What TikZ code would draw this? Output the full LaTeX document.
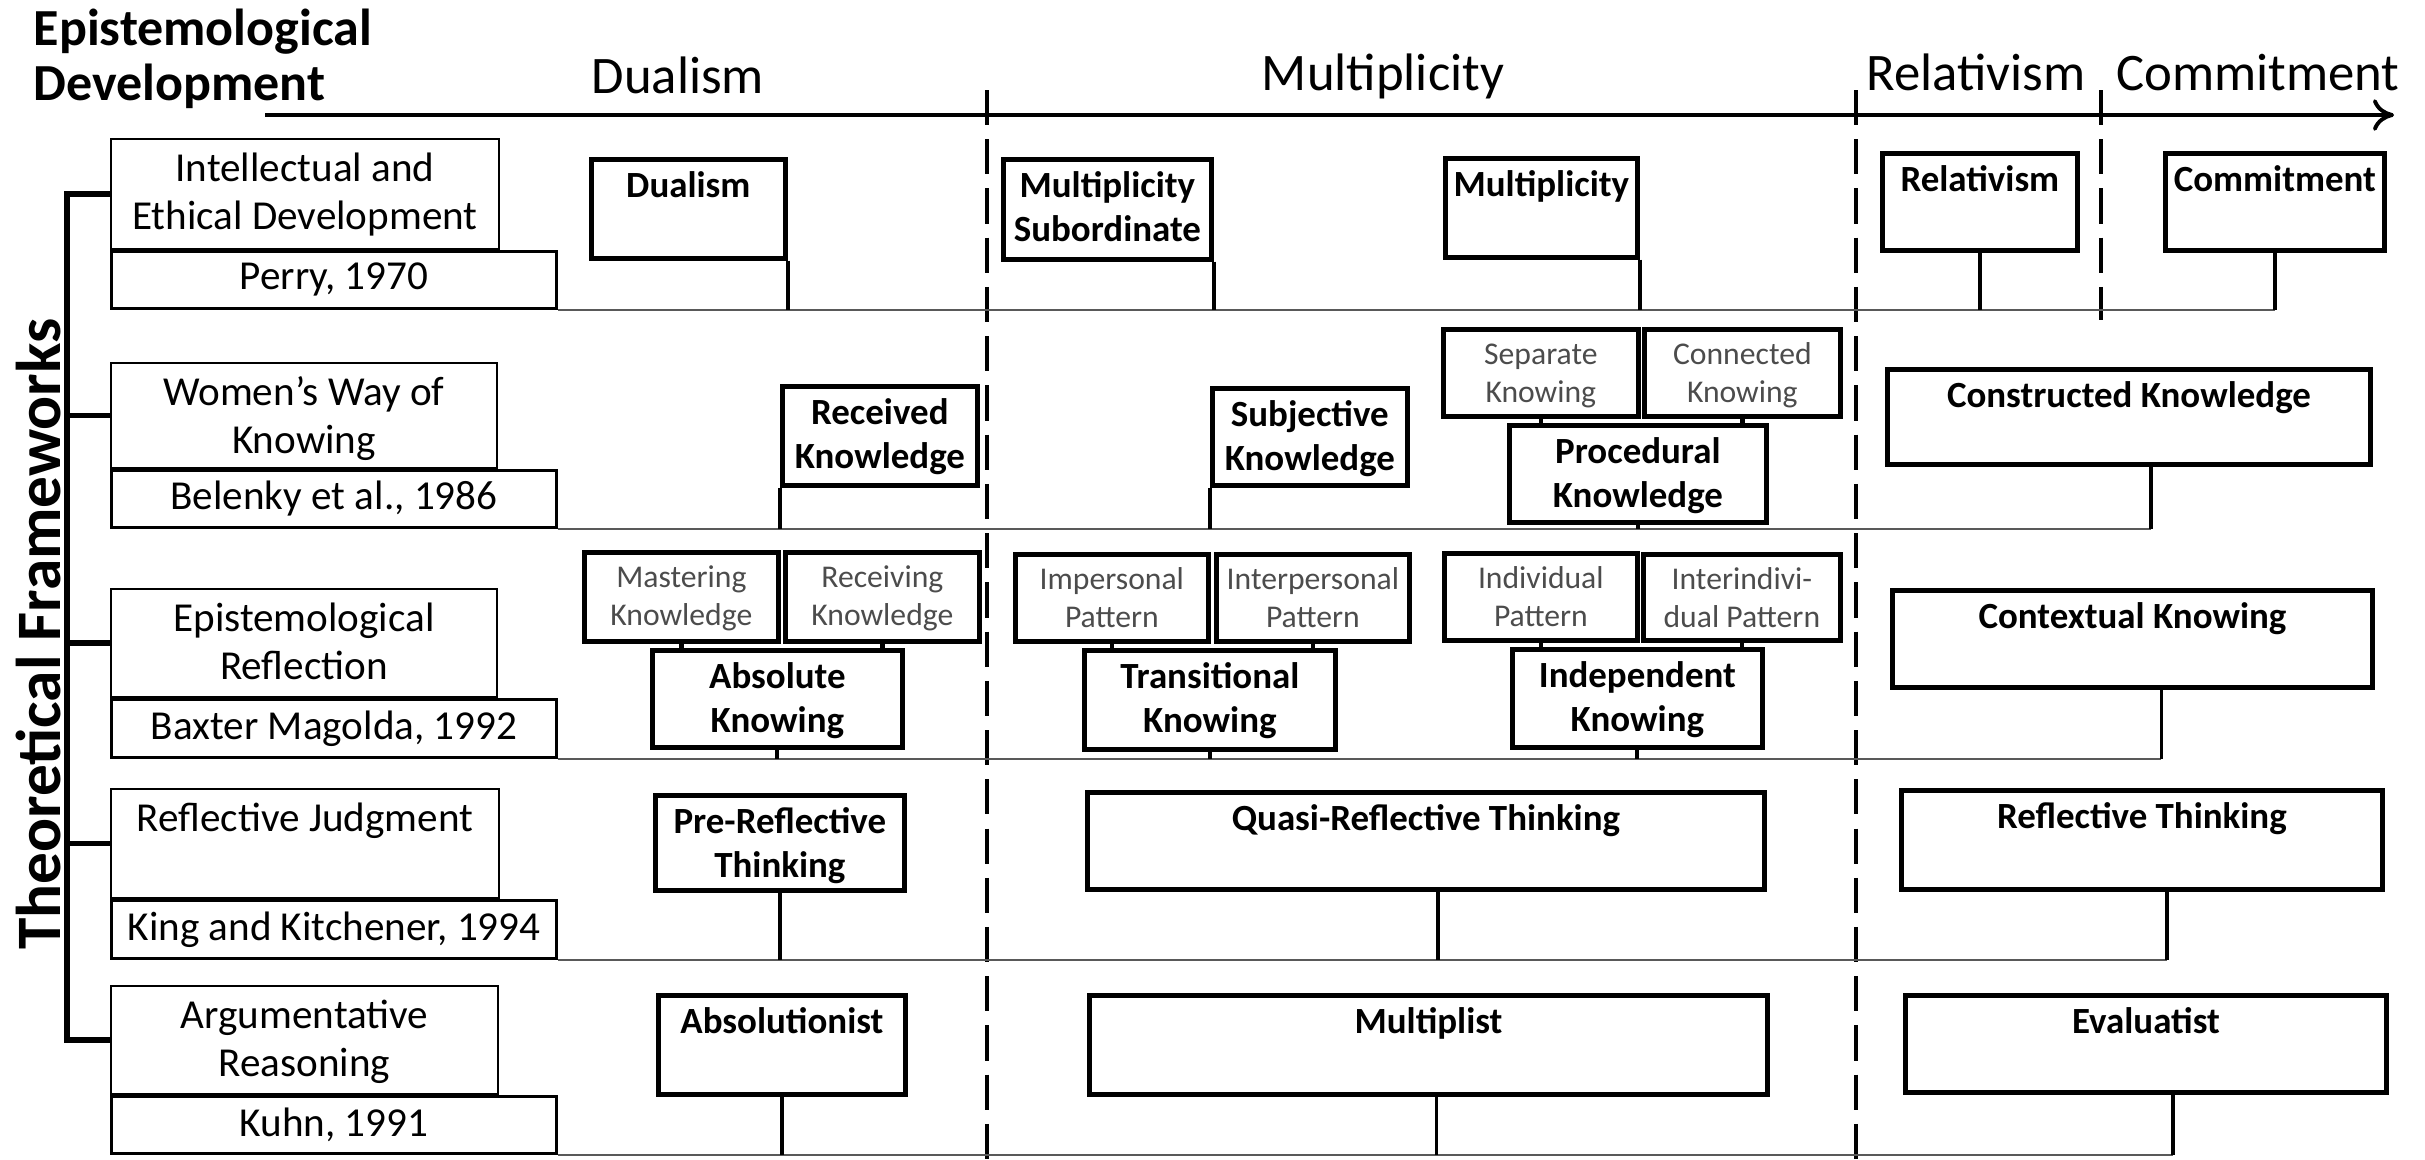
\documentclass[tikz,border=0pt]{standalone}
\usepackage{fontspec}
\setmainfont{Carlito}
\usetikzlibrary{positioning}
\usetikzlibrary{arrows.meta}
\newcommand{\toplines}[1]{\begin{tabular}[t]{@{}c@{}}#1\end{tabular}}

\begin{document}
\begin{tikzpicture}[x=0.01cm, y=-0.01cm,
    ttlbox/.style={draw, line width=0.5pt, inner sep=0pt, anchor=north west, font=\fontsize{11.7}{13.6}\selectfont, text height=0.43cm},
    citebox/.style={draw, line width=0.8pt, inner sep=0pt, anchor=north west, align=center, font=\fontsize{11.7}{13.6}\selectfont},
    stagebox/.style={draw, line width=1.3pt, inner sep=0pt, anchor=north west, font=\fontsize{10.5}{12.5}\selectfont\bfseries, text height=0.38cm},
    subbox/.style={draw, line width=1.3pt, inner sep=0pt, anchor=north west, font=\fontsize{9}{10.8}\selectfont, text=black!70, text height=0.35cm},
    eralabel/.style={anchor=base, font=\fontsize{15}{18}\selectfont},
    stemline/.style={line width=1.1pt},
    linkline/.style={line width=1.3pt},
    rowline/.style={line width=0.6pt, black!65},
    phaseline/.style={line width=1pt, dash pattern=on 10pt off 4pt}]

    \useasboundingbox (0,0) rectangle (2425,1159);

    \node[anchor=base west, align=left, inner sep=0pt, font=\fontsize{14.8}{15.6}\selectfont\bfseries] (epdev) at (33,100) {Epistemological\\Development};
    \node[rotate=90, inner sep=0pt, font=\fontsize{18}{20}\selectfont\bfseries] (thfw) at (38,634) {Theoretical Frameworks};

    \coordinate (ax0) at (265,115);
    \coordinate (ax1) at (2394,115);
    \draw[line width=1.1pt, -{To[length=6pt,width=9pt]}] (ax0) -- (ax1);

    \node[eralabel] (hdual) at (678,93) {Dualism};
    \node[eralabel] (hmult) at (1383,90) {Multiplicity};
    \node[eralabel] (hrela) at (1976,90) {Relativism};
    \node[eralabel] (hcomm) at (2258,90) {Commitment};

    \coordinate (p1) at (987,90);
    \coordinate (p2) at (1856,90);
    \coordinate (p3) at (2101,90);
    \draw[phaseline] (p1) -- ++(0,1069);
    \draw[phaseline] (p2) -- ++(0,1069);
    \draw[phaseline] (p3) -- ++(0,230);

    \node[ttlbox, minimum width=3.88cm, text depth=0.67cm] (ttl1) at (110,138) {\toplines{Intellectual and\\Ethical Development}};
    \node[citebox, minimum width=4.45cm, minimum height=0.57cm] (cite1) at (ttl1.south west) {Perry, 1970};

    \node[ttlbox, minimum width=3.86cm, text depth=0.62cm] (ttl2) at (110,362) {\toplines{Women’s Way of\\Knowing}};
    \node[citebox, minimum width=4.45cm, minimum height=0.57cm] (cite2) at (ttl2.south west) {Belenky et al., 1986};

    \node[ttlbox, minimum width=3.86cm, text depth=0.65cm] (ttl3) at (110,588) {\toplines{Epistemological\\Reflection}};
    \node[citebox, minimum width=4.45cm, minimum height=0.58cm] (cite3) at (ttl3.south west) {Baxter Magolda, 1992};

    \node[ttlbox, minimum width=3.88cm, text depth=0.66cm] (ttl4) at (110,788) {Reflective Judgment};
    \node[citebox, minimum width=4.45cm, minimum height=0.58cm] (cite4) at (ttl4.south west) {King and Kitchener, 1994};

    \node[ttlbox, minimum width=3.87cm, text depth=0.65cm] (ttl5) at (110,985) {\toplines{Argumentative\\Reasoning}};
    \node[citebox, minimum width=4.45cm, minimum height=0.57cm] (cite5) at (ttl5.south west) {Kuhn, 1991};

    \coordinate (spine) at (67,0);
    \draw[line width=1.5pt] (ttl1.west) -- (ttl1.west -| spine) -- (ttl5.west -| spine) -- (ttl5.west);
    \foreach \r in {2,3,4}
        \draw[line width=1.5pt] (ttl\r.west) -- (ttl\r.west -| spine);

    \node[stagebox, minimum width=1.94cm, text depth=0.61cm] (dual) at (589,157) {Dualism};
    \node[stagebox, minimum width=2.08cm, text depth=0.62cm] (msub) at (1001,157) {\toplines{Multiplicity\\Subordinate}};
    \node[stagebox, minimum width=1.92cm, text depth=0.61cm] (mult) at (1443,156) {Multiplicity};
    \node[stagebox, minimum width=1.95cm, text depth=0.59cm] (rela) at (1880,151) {Relativism};
    \node[stagebox, minimum width=2.19cm, text depth=0.59cm] (comm) at (2163,151) {Commitment};

    \draw[rowline] (cite1.south east) -- (cite1.south east -| comm.south);
    \draw[stemline] (dual.south east) -- (dual.south east |- cite1.south);
    \draw[stemline] (msub.south east) -- (msub.south east |- cite1.south);
    \draw[stemline] (mult.south east) -- (mult.south east |- cite1.south);
    \draw[stemline] (rela.south) -- (rela.south |- cite1.south);
    \draw[stemline] (comm.south) -- (comm.south |- cite1.south);

    \node[stagebox, minimum width=1.95cm, text depth=0.61cm] (recv) at (780,384) {\toplines{Received\\Knowledge}};
    \node[stagebox, minimum width=1.95cm, text depth=0.59cm] (subj) at (1210,386) {\toplines{Subjective\\Knowledge}};
    \node[subbox, minimum width=1.95cm, text depth=0.52cm] (sepk) at (1441,327) {\toplines{Separate\\Knowing}};
    \node[subbox, minimum width=1.96cm, text depth=0.52cm] (conk) at (1642,327) {\toplines{Connected\\Knowing}};
    \node[stagebox, minimum width=2.57cm, text depth=0.59cm] (proc) at (1507,423) {\toplines{Procedural\\Knowledge}};
    \node[stagebox, minimum width=4.83cm, text depth=0.57cm] (cons) at (1885,367) {Constructed Knowledge};
    \coordinate (cons-s) at ([xshift=0.22cm]cons.south);

    \draw[linkline] (sepk.south) -- (sepk.south |- proc.north);
    \draw[linkline] (conk.south) -- (conk.south |- proc.north);
    \draw[rowline] (cite2.south east) -- (cite2.south east -| cons-s);
    \draw[stemline] (recv.south west) -- (recv.south west |- cite2.south);
    \draw[stemline] (subj.south west) -- (subj.south west |- cite2.south);
    \draw[stemline] (proc.south) -- (proc.south |- cite2.south);
    \draw[stemline] (cons-s) -- (cons-s |- cite2.south);

    \node[subbox, minimum width=1.94cm, text depth=0.54cm] (mast) at (582,550) {\toplines{Mastering\\Knowledge}};
    \node[subbox, minimum width=1.94cm, text depth=0.54cm] (rcvg) at (783,550) {\toplines{Receiving\\Knowledge}};
    \node[stagebox, minimum width=2.50cm, text depth=0.59cm] (absk) at (650,648) {\toplines{Absolute\\Knowing}};
    \node[subbox, minimum width=1.93cm, text depth=0.52cm] (impp) at (1013,552) {\toplines{Impersonal\\Pattern}};
    \node[subbox, minimum width=1.93cm, text depth=0.52cm] (intp) at (1214,552) {\toplines{Interpersonal\\Pattern}};
    \node[stagebox, minimum width=2.51cm, text depth=0.61cm] (trns) at (1082,648) {\toplines{Transitional\\Knowing}};
    \node[subbox, minimum width=1.93cm, text depth=0.52cm] (indp) at (1442,551) {\toplines{Individual\\Pattern}};
    \node[subbox, minimum width=1.97cm, text depth=0.51cm] (iinp) at (1641,552) {\toplines{Interindivi-\\dual Pattern}};
    \node[stagebox, minimum width=2.50cm, text depth=0.60cm] (indk) at (1510,647) {\toplines{Independent\\Knowing}};
    \node[stagebox, minimum width=4.80cm, text depth=0.59cm] (ctxk) at (1890,588) {Contextual Knowing};
    \coordinate (ctxk-s) at ([xshift=0.29cm]ctxk.south);

    \draw[linkline] (mast.south) -- (mast.south |- absk.north);
    \draw[linkline] (rcvg.south) -- (rcvg.south |- absk.north);
    \draw[linkline] (impp.south) -- (impp.south |- trns.north);
    \draw[linkline] (intp.south) -- (intp.south |- trns.north);
    \draw[linkline] (indp.south) -- (indp.south |- indk.north);
    \draw[linkline] (iinp.south) -- (iinp.south |- indk.north);
    \draw[rowline] (cite3.south east) -- (cite3.south east -| ctxk-s);
    \draw[stemline] (absk.south) -- (absk.south |- cite3.south);
    \draw[stemline] (trns.south) -- (trns.south |- cite3.south);
    \draw[stemline] (indk.south) -- (indk.south |- cite3.south);
    \draw[stemline] (ctxk-s) -- (ctxk-s |- cite3.south);

    \node[stagebox, minimum width=2.49cm, text depth=0.57cm] (prer) at (653,793) {\toplines{Pre-Reflective\\Thinking}};
    \node[stagebox, minimum width=6.77cm, text depth=0.59cm] (quas) at (1085,790) {Quasi-Reflective Thinking};
    \node[stagebox, minimum width=4.81cm, text depth=0.61cm] (refl) at (1899,788) {Reflective Thinking};
    \coordinate (quas-s) at ([xshift=0.12cm]quas.south);
    \coordinate (refl-s) at ([xshift=0.25cm]refl.south);

    \draw[rowline] (cite4.south east) -- (cite4.south east -| refl-s);
    \draw[stemline] (prer.south) -- (prer.south |- cite4.south);
    \draw[stemline] (quas-s) -- (quas-s |- cite4.south);
    \draw[stemline] (refl-s) -- (refl-s |- cite4.south);

    \node[stagebox, minimum width=2.47cm, text depth=0.61cm] (absl) at (656,993) {Absolutionist};
    \node[stagebox, minimum width=6.78cm, text depth=0.61cm] (mltp) at (1087,993) {Multiplist};
    \node[stagebox, minimum width=4.81cm, text depth=0.59cm] (eval) at (1903,993) {Evaluatist};
    \coordinate (mltp-s) at ([xshift=0.08cm]mltp.south);
    \coordinate (eval-s) at ([xshift=0.27cm]eval.south);

    \draw[rowline] (cite5.south east) -- (cite5.south east -| eval-s);
    \draw[stemline] (absl.south) -- (absl.south |- cite5.south);
    \draw[stemline] (mltp-s) -- (mltp-s |- cite5.south);
    \draw[stemline] (eval-s) -- (eval-s |- cite5.south);
\end{tikzpicture}
\end{document}
